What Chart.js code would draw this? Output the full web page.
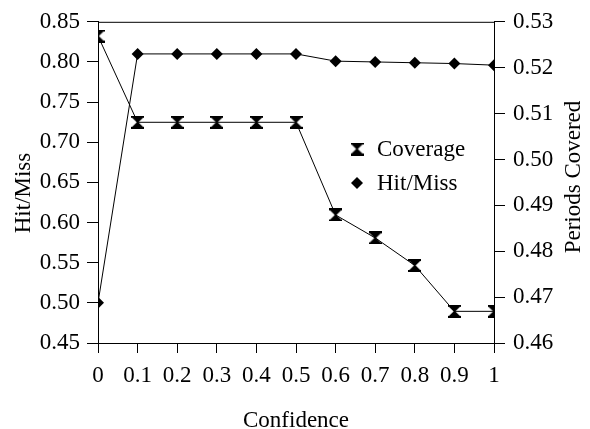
<!DOCTYPE html>
<html><head><meta charset="utf-8">
<script src="https://cdn.jsdelivr.net/npm/chart.js@4.4.0/dist/chart.umd.min.js"></script>
<style>html,body{margin:0;padding:0;background:#fff;}canvas{display:block;}</style>
</head><body>
<canvas id="c" width="590" height="429"></canvas>
<script>
const confidence = [0, 0.1, 0.2, 0.3, 0.4, 0.5, 0.6, 0.7, 0.8, 0.9, 1];
const hitMiss = [0.500, 0.810, 0.810, 0.810, 0.810, 0.810, 0.801, 0.800, 0.799, 0.798, 0.796];
const coverage = [0.5269, 0.5081, 0.5081, 0.5081, 0.5081, 0.5081, 0.4879, 0.4829, 0.4769, 0.4669, 0.4669];
const seriesNames = ['Coverage', 'Hit/Miss'];
const xTitle = 'Confidence';
const yTitle = 'Hit/Miss';
const y1Title = 'Periods Covered';

const FONT = 'Liberation Serif, Times New Roman, serif';

function hourglass() {
  const w = 13, h = 13;
  const c = document.createElement('canvas');
  c.width = w; c.height = h;
  const g = c.getContext('2d');
  g.fillStyle = '#000';
  g.fillRect(0, 0, w, 2);
  g.fillRect(0, h - 2, w, 2);
  g.beginPath();
  g.moveTo(0, 1); g.lineTo(w, 1); g.lineTo(w / 2 + 0.8, h / 2); g.lineTo(w, h - 1); g.lineTo(0, h - 1); g.lineTo(w / 2 - 0.8, h / 2); g.closePath();
  g.fill();
  return c;
}
const hg = hourglass();

const boxPlugin = {
  id: 'box',
  afterDraw(chart) {
    const {ctx, chartArea: a} = chart;
    ctx.save();
    ctx.strokeStyle = '#000';
    ctx.lineWidth = 1;
    ctx.beginPath();
    ctx.moveTo(a.left, a.top + 0.5); ctx.lineTo(a.right, a.top + 0.5);
    ctx.stroke();
    ctx.font = '23px ' + FONT;
    ctx.fillStyle = '#000';
    // axis titles
    ctx.textAlign = 'center';
    ctx.textBaseline = 'alphabetic';
    ctx.fillText(xTitle, (a.left + a.right) / 2, 427);
    ctx.textBaseline = 'middle';
    ctx.save(); ctx.translate(24, 193); ctx.rotate(-Math.PI / 2); ctx.fillText(yTitle, 0, 0); ctx.restore();
    ctx.save(); ctx.translate(574, 177); ctx.rotate(-Math.PI / 2); ctx.fillText(y1Title, 0, 0); ctx.restore();
    // legend
    ctx.textAlign = 'left';
    const lx = 357, ly = [149, 183];
    ctx.drawImage(hg, lx - 6.5, ly[0] - 6.5);
    ctx.fillText(seriesNames[0], 377, ly[0] + 1);
    ctx.beginPath();
    ctx.moveTo(lx, ly[1] - 6); ctx.lineTo(lx + 6, ly[1]); ctx.lineTo(lx, ly[1] + 6); ctx.lineTo(lx - 6, ly[1]); ctx.closePath();
    ctx.fill();
    ctx.fillText(seriesNames[1], 377, ly[1] + 1);
    ctx.restore();
  }
};

new Chart(document.getElementById('c'), {
  type: 'line',
  data: {
    labels: confidence,
    datasets: [
      { label: seriesNames[0], data: confidence.map((x, i) => ({x, y: coverage[i]})), yAxisID: 'y1',
        borderColor: '#000', borderWidth: 1, pointStyle: hg, pointRadius: 6.5, pointBackgroundColor: '#000', fill: false, tension: 0 },
      { label: seriesNames[1], data: confidence.map((x, i) => ({x, y: hitMiss[i]})), yAxisID: 'y',
        borderColor: '#000', borderWidth: 1, pointStyle: 'rectRot', pointRadius: 6, pointBackgroundColor: '#000', pointBorderWidth: 0, fill: false, tension: 0 }
    ]
  },
  options: {
    responsive: false,
    animation: false,
    layout: { padding: { top: 16, left: 0, right: 0, bottom: 0 } },
    plugins: { legend: { display: false }, tooltip: { enabled: false } },
    scales: {
      x: {
        type: 'linear', min: 0, max: 1,
        afterFit(s) { s.height = 86; },
        ticks: { stepSize: 0.1, color: '#000', font: { family: FONT, size: 23 }, padding: 9, maxRotation: 0,
          callback: v => String(Math.round(v * 10) / 10) },
        grid: { drawOnChartArea: false, drawTicks: true, tickLength: 10, color: '#000' },
        border: { display: true, color: '#000', width: 1 },
        title: { display: false }
      },
      y: {
        position: 'left', min: 0.45, max: 0.85,
        afterFit(s) { s.width = 98; },
        ticks: { stepSize: 0.05, color: '#000', font: { family: FONT, size: 23 }, padding: 7,
          callback: v => v.toFixed(2) },
        grid: { drawOnChartArea: false, drawTicks: true, tickLength: 11, color: '#000' },
        border: { display: true, color: '#000', width: 1 },
        title: { display: false }
      },
      y1: {
        position: 'right', min: 0.46, max: 0.53,
        afterFit(s) { s.width = 96; },
        ticks: { stepSize: 0.01, color: '#000', font: { family: FONT, size: 23 }, padding: 8,
          callback: v => v.toFixed(2) },
        grid: { drawOnChartArea: false, drawTicks: true, tickLength: 11, color: '#000' },
        border: { display: true, color: '#000', width: 1 },
        title: { display: false }
      }
    }
  },
  plugins: [boxPlugin]
});
</script>
</body></html>
